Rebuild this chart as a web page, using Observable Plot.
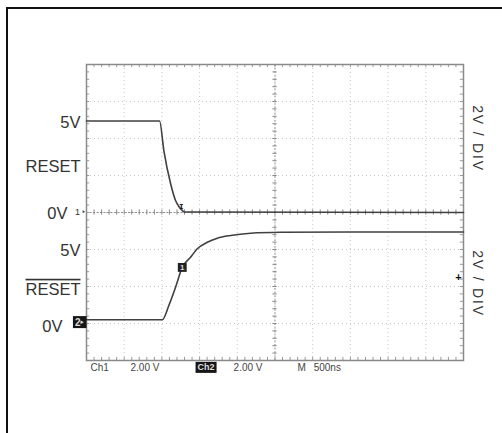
<!DOCTYPE html>
<html>
<head>
<meta charset="utf-8">
<script src="https://cdn.jsdelivr.net/npm/d3@7"></script>
<script src="https://cdn.jsdelivr.net/npm/@observablehq/plot@0.6"></script>
<style>
  html, body { margin: 0; padding: 0; background: #fff; overflow: hidden; }
  #wrap { position: relative; width: 502px; height: 433px; overflow: hidden; }
  svg text { font-family: "Liberation Sans", Arial, sans-serif; }
</style>
</head>
<body>
<div id="wrap"></div>
<script>
// ---- data (time in ns, voltage in V) ----
const ch1Time  = [0, 969, 1026, 1115, 1181, 1230, 1270, 1300, 5000];
const ch1Volts = [4.95, 4.95, 3.35, 1.57, 0.65, 0.30, 0.11, 0.03, 0];
const ch2Time  = [0, 1005, 1092, 1181, 1270, 1380, 1469, 1602, 1735, 1911, 2177, 2575, 3504, 5000];
const ch2Volts = [0, 0, 0.77, 1.76, 2.83, 3.38, 3.84, 4.19, 4.41, 4.56, 4.68, 4.73, 4.75, 4.75];

// channel settings
const channelNames   = ["Ch1", "Ch2"];
const voltsPerDiv    = [2, 2];
const groundDiv      = [4, 1.1];          // ground level, divisions above bottom
const timePerDiv     = 500;               // ns
const divisionsX     = 10;
const divisionsY     = 8;

// left labels
const labelText    = ["5V", "RESET", "0V", "5V", "RESET", "0V"];
const labelChannel = [0, 0, 0, 1, 1, 1];
const labelVolts   = [4.86, 2.5, -0.05, 3.75, 1.64, -0.4];
const labelOverline = [false, false, false, false, true, false];

// right labels
const sideText    = ["2V / DIV", "2V / DIV"];
const sideChannel = [0, 1];
const sideVolts   = [4.0, 1.96];

// status line
const statusText = ["Ch1", "2.00 V", "Ch2", "2.00 V", "M", "500ns"];
const statusInverted = [false, false, true, false, false, false];

// cursor markers on traces
const markerChannel = [0, 1];
const markerTime    = [1270, 1270];
const markerVolts   = [0.35, 2.83];

// trigger level (Ch2)
const triggerVolts = 2.3;

// ---- build ----
const toDiv = (ch, v) => groundDiv[ch] + v / voltsPerDiv[ch];
const ch1 = ch1Time.map((t, i) => ({t, y: toDiv(0, ch1Volts[i])}));
const ch2 = ch2Time.map((t, i) => ({t, y: toDiv(1, ch2Volts[i])}));
const labels = labelText.map((text, i) => ({text, y: toDiv(labelChannel[i], labelVolts[i]), zero: text === "0V"}));
const sides = sideText.map((text, i) => ({text, y: toDiv(sideChannel[i], sideVolts[i])}));
const statusLayout = [53, 584, 1473, 1951, 2800, 3013]; // layout positions along time axis (ns)
const status = statusText.map((text, i) => ({text, x: statusLayout[i], inv: statusInverted[i]}));
const markers = markerChannel.map((c, i) => ({c, t: markerTime[i], y: toDiv(c, markerVolts[i])}));

const tMax = timePerDiv * divisionsX;
const majorX = d3.range(0, divisionsX + 1).map(d => d * timePerDiv);
const majorY = d3.range(0, divisionsY + 1);
const minorX = d3.range(0, divisionsX * 5 + 1).map(d => d * timePerDiv / 5);
const minorY = d3.range(0, divisionsY * 5 + 1).map(d => d / 5);
const tx = 0.07 * timePerDiv, ty = 0.07; // half tick length in data units

const gridColor = "#c8c8c8";
const frameColor = "#8a8a8a";
const traceColor = "#404040";
const textColor = "#333";

const chart = Plot.plot({
  width: 502,
  height: 433,
  marginLeft: 86,
  marginRight: 39,
  marginTop: 64,
  marginBottom: 73,
  x: {domain: [0, tMax], axis: null},
  y: {domain: [0, divisionsY], axis: null},
  style: {background: "transparent", fontFamily: "Liberation Sans, Arial, sans-serif", overflow: "visible"},
  marks: [
    Plot.ruleX(majorX, {stroke: gridColor, strokeDasharray: "1,3"}),
    Plot.ruleY(majorY, {stroke: gridColor, strokeDasharray: "1,3"}),
    Plot.ruleX([tMax / 2], {stroke: "#a0a0a0", strokeDasharray: "2,1.5"}),
    Plot.ruleY([divisionsY / 2], {stroke: "#909090", strokeDasharray: "2,1.5"}),
    Plot.ruleX(minorX, {x: d => d, y1: divisionsY / 2 - ty, y2: divisionsY / 2 + ty, stroke: "#888"}),
    Plot.ruleY(minorY, {y: d => d, x1: tMax / 2 - tx * 0.8, x2: tMax / 2 + tx * 0.8, stroke: "#888"}),
    Plot.ruleY(minorY, {y: d => d, x1: 0, x2: tx * 1.2, stroke: "#999"}),
    Plot.ruleY(minorY, {y: d => d, x1: tMax - tx * 1.2, x2: tMax, stroke: "#999"}),
    Plot.ruleX(minorX, {x: d => d, y1: divisionsY - ty * 1.2, y2: divisionsY, stroke: "#999"}),
    Plot.ruleX(minorX, {x: d => d, y1: 0, y2: ty * 1.2, stroke: "#999"}),
    Plot.frame({stroke: frameColor, strokeWidth: 1.5}),
    Plot.line(ch1, {x: "t", y: "y", stroke: traceColor, strokeWidth: 1.6, curve: "monotone-x"}),
    Plot.line(ch2, {x: "t", y: "y", stroke: traceColor, strokeWidth: 1.6, curve: "monotone-x"}),
    Plot.text(markers.filter(d => d.c === 0), {x: "t", y: "y", text: () => "ɪ", fontSize: 9, fontWeight: "bold", fill: "#222", dx: -1}),
    Plot.dot(markers.filter(d => d.c === 1), {x: "t", y: "y", symbol: "square", r: 5, fill: "#222"}),
    Plot.text(markers.filter(d => d.c === 1), {x: "t", y: "y", text: () => "1", fontSize: 8, fontWeight: "bold", fill: "#ddd"}),
    Plot.text(labels.filter(d => !d.zero), {x: 0, y: "y", text: "text", textAnchor: "end", dx: -6, fontSize: 16.5, fill: textColor}),
    Plot.text(labels.filter(d => d.zero).slice(0, 1), {x: 0, y: "y", text: "text", textAnchor: "end", dx: -19, fontSize: 16.5, fill: textColor}),
    Plot.text(labels.filter(d => d.zero).slice(1), {x: 0, y: "y", text: "text", textAnchor: "end", dx: -24, fontSize: 16.5, fill: textColor}),
    Plot.text([toDiv(0, 0)], {x: 0, y: d => d, text: () => "1 ‣", textAnchor: "end", dx: -1, fontSize: 9, fill: "#333"}),
    Plot.text([toDiv(1, 0)], {x: 0, y: d => d - 0.07, text: () => "2‣", textAnchor: "end", dx: -2, fontSize: 10, fontWeight: "bold", fill: "#ddd", className: "inv"}),
    Plot.text([toDiv(1, triggerVolts)], {x: tMax, y: d => d, text: () => "+", dx: -5, fontSize: 11, fontWeight: "bold", fill: "#111"}),
    Plot.text(sides, {x: tMax, y: "y", text: "text", rotate: 90, dx: 14, fontSize: 14, fill: textColor}),
    Plot.text(status.filter(d => !d.inv), {x: "x", y: 0, text: "text", textAnchor: "start", dy: 7, fontSize: 10, fill: "#444"}),
    Plot.text(status.filter(d => d.inv), {x: "x", y: 0, text: "text", textAnchor: "start", dy: 7, fontSize: 9, fontWeight: "bold", fill: "#ddd", className: "inv"})
  ]
});

document.getElementById("wrap").appendChild(chart);

const sel = d3.select(chart);
const overlineIdx = labelOverline.indexOf(true);
let seen = 0;
const target = labelText.slice(0, overlineIdx).filter(x => x === labelText[overlineIdx]).length;
const invNodes = [];
sel.selectAll("text").each(function () {
  const t = this.textContent;
  if (t === labelText[overlineIdx]) {
    if (seen === target) this.style.textDecoration = "overline";
    seen++;
  }
  if (sideText.includes(t)) this.setAttribute("letter-spacing", "1.8");
  if (this.closest(".inv")) invNodes.push(this);
});
invNodes.forEach(node => {
  const b = node.getBBox();
  const m = chart.getScreenCTM().inverse().multiply(node.getScreenCTM());
  const p = chart.createSVGPoint();
  p.x = b.x; p.y = b.y;
  const q = p.matrixTransform(m);
  sel.insert("rect", () => node.closest("g"))
    .attr("x", q.x - 2).attr("y", q.y - 0.5)
    .attr("width", b.width + 4).attr("height", b.height + 1)
    .attr("fill", "#161616");
});
// outer border (top and left)
sel.append("path")
  .attr("d", "M7,433V8H502")
  .attr("fill", "none").attr("stroke", "#111").attr("stroke-width", 2);
</script>
</body>
</html>
